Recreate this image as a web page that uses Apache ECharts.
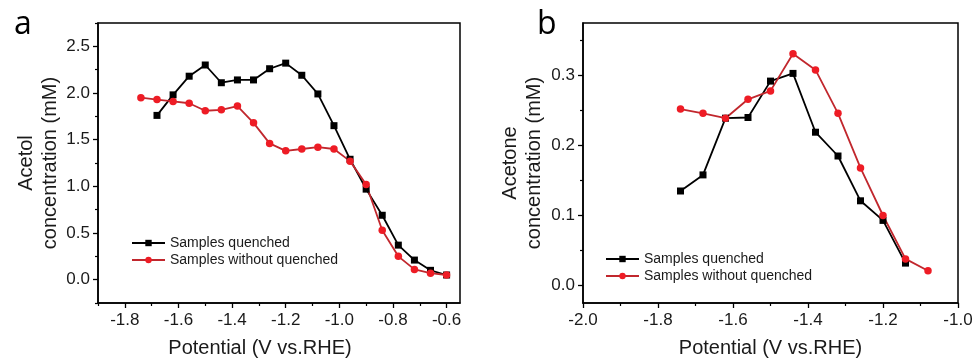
<!DOCTYPE html>
<html>
<head>
<meta charset="utf-8">
<script src="https://cdn.jsdelivr.net/npm/echarts@6/dist/echarts.min.js"></script>
<style>
html,body{margin:0;padding:0;background:#fff;}
#chart{width:977px;height:364px;}
</style>
</head>
<body>
<div id="chart"></div>
<script>
// ---- Panel a: Acetol ----
const aQuenchedX = [-1.68, -1.62, -1.56, -1.50, -1.44, -1.38, -1.32, -1.26, -1.20, -1.14, -1.08, -1.02, -0.96, -0.90, -0.84, -0.78, -0.72, -0.66, -0.60];
const aQuenchedY = [1.76, 1.98, 2.18, 2.30, 2.11, 2.14, 2.14, 2.26, 2.32, 2.19, 1.99, 1.65, 1.29, 0.97, 0.69, 0.37, 0.21, 0.10, 0.05];
const aWithoutX = [-1.74, -1.68, -1.62, -1.56, -1.50, -1.44, -1.38, -1.32, -1.26, -1.20, -1.14, -1.08, -1.02, -0.96, -0.90, -0.84, -0.78, -0.72, -0.66, -0.60];
const aWithoutY = [1.95, 1.93, 1.91, 1.89, 1.81, 1.82, 1.86, 1.68, 1.46, 1.38, 1.40, 1.42, 1.40, 1.27, 1.02, 0.53, 0.25, 0.11, 0.07, 0.05];

// ---- Panel b: Acetone ----
const bQuenchedX = [-1.74, -1.68, -1.62, -1.56, -1.50, -1.44, -1.38, -1.32, -1.26, -1.20, -1.14];
const bQuenchedY = [0.135, 0.158, 0.239, 0.240, 0.292, 0.303, 0.219, 0.185, 0.121, 0.093, 0.032];
const bWithoutX = [-1.74, -1.68, -1.62, -1.56, -1.50, -1.44, -1.38, -1.32, -1.26, -1.20, -1.14, -1.08];
const bWithoutY = [0.252, 0.246, 0.239, 0.266, 0.278, 0.331, 0.308, 0.246, 0.168, 0.100, 0.038, 0.021];

// ---- Tick values ----
const aXTicks = [-1.8, -1.6, -1.4, -1.2, -1.0, -0.8, -0.6];
const aXMinor = [-1.9, -1.7, -1.5, -1.3, -1.1, -0.9, -0.7];
const aYTicks = [0.0, 0.5, 1.0, 1.5, 2.0, 2.5];
const aYMinor = [-0.25, 0.25, 0.75, 1.25, 1.75, 2.25, 2.75];
const bXTicks = [-2.0, -1.8, -1.6, -1.4, -1.2, -1.0];
const bXMinor = [-1.9, -1.7, -1.5, -1.3, -1.1];
const bYTicks = [0.0, 0.1, 0.2, 0.3];
const bYMinor = [0.05, 0.15, 0.25, 0.35];

const seriesNames = ['Samples quenched', 'Samples without quenched'];
const panelLabels = ['a', 'b'];
const yNames = ['Acetol\nconcentration (mM)', 'Acetone\nconcentration (mM)'];
const xName = 'Potential (V vs.RHE)';

const zip = (xs, ys) => xs.map((x, i) => [x, ys[i]]);
const FONT = 'Liberation Sans';
const TXT = '#1a1a1a';

function mainX(grid, min, max, ticks, namePad) {
  return {
    type: 'value', gridIndex: grid, position: 'bottom', min: min, max: max,
    axisLine: { show: true, onZero: false, lineStyle: { color: '#000', width: 1.5 } },
    axisTick: { show: true, length: 5, customValues: ticks, lineStyle: { color: '#000', width: 1.3 } },
    axisLabel: { customValues: ticks, margin: 9, fontFamily: FONT, fontSize: 17, color: TXT,
      formatter: v => v.toFixed(1) },
    splitLine: { show: false },
    name: xName, nameLocation: 'middle', nameGap: 35,
    nameTextStyle: { fontFamily: FONT, fontSize: 20, color: TXT, padding: namePad }
  };
}
function minorX(grid, min, max, ticks) {
  return {
    type: 'value', gridIndex: grid, position: 'bottom', min: min, max: max,
    axisLine: { show: false, onZero: false }, axisLabel: { show: false }, splitLine: { show: false },
    axisTick: { show: true, length: 3, customValues: ticks, lineStyle: { color: '#000', width: 1.2 } }
  };
}
function mainY(grid, min, max, ticks, name, gap) {
  return {
    type: 'value', gridIndex: grid, position: 'left', min: min, max: max,
    axisLine: { show: true, onZero: false, lineStyle: { color: '#000', width: 1.5 } },
    axisTick: { show: true, length: 5, customValues: ticks, lineStyle: { color: '#000', width: 1.3 } },
    axisLabel: { customValues: ticks, margin: 8, fontFamily: FONT, fontSize: 17, color: TXT,
      formatter: v => v.toFixed(1) },
    splitLine: { show: false },
    name: name, nameLocation: 'middle', nameGap: gap, nameRotate: 90,
    nameTextStyle: { fontFamily: FONT, fontSize: 20, color: TXT, lineHeight: 24 }
  };
}
function minorY(grid, min, max, ticks) {
  return {
    type: 'value', gridIndex: grid, position: 'left', offset: 0, min: min, max: max,
    axisLine: { show: false, onZero: false }, axisLabel: { show: false }, splitLine: { show: false },
    axisTick: { show: true, length: 3, customValues: ticks, lineStyle: { color: '#000', width: 1.2 } }
  };
}

function blackSeries(xi, yi, data) {
  return {
    name: seriesNames[0], type: 'line', xAxisIndex: xi, yAxisIndex: yi, data: data,
    symbol: 'rect', symbolSize: 7, showSymbol: true,
    lineStyle: { color: '#000', width: 1.8 }, itemStyle: { color: '#000' },
    animation: false
  };
}
function redSeries(xi, yi, data) {
  return {
    name: seriesNames[1], type: 'line', xAxisIndex: xi, yAxisIndex: yi, data: data,
    symbol: 'circle', symbolSize: 7.5, showSymbol: true,
    lineStyle: { color: '#c1272d', width: 1.8 }, itemStyle: { color: '#ee1c25' },
    animation: false
  };
}

const chart = echarts.init(document.getElementById('chart'), null, { renderer: 'canvas' });
chart.setOption({
  animation: false,
  backgroundColor: '#fff',
  title: [
    { text: panelLabels[0], left: 9, top: 4, textStyle: { fontFamily: 'Open Sans', fontSize: 32, fontWeight: 'normal', color: '#000' } },
    { text: panelLabels[1], left: 532, top: 4, textStyle: { fontFamily: 'Open Sans', fontSize: 32, fontWeight: 'normal', color: '#000' } }
  ],
  grid: [
    { left: 98, top: 23, width: 362, height: 280, show: true, borderColor: '#000', borderWidth: 1.5, backgroundColor: 'transparent', containLabel: false },
    { left: 583, top: 23, width: 375, height: 280, show: true, borderColor: '#000', borderWidth: 1.5, backgroundColor: 'transparent', containLabel: false }
  ],
  legend: [
    { data: seriesNames, orient: 'vertical', left: 126, top: 231, itemWidth: 33, itemHeight: 8, itemGap: 3,
      textStyle: { fontFamily: FONT, fontSize: 14, color: TXT }, selectedMode: false },
    { data: seriesNames, orient: 'vertical', left: 600, top: 247, itemWidth: 33, itemHeight: 8, itemGap: 3,
      textStyle: { fontFamily: FONT, fontSize: 14, color: TXT }, selectedMode: false }
  ],
  xAxis: [
    mainX(0, -1.9, -0.55, aXTicks, [0, 38, 0, 0]),
    minorX(0, -1.9, -0.55, aXMinor),
    mainX(1, -2.0, -1.0, bXTicks, [0, 0, 0, 0]),
    minorX(1, -2.0, -1.0, bXMinor)
  ],
  yAxis: [
    mainY(0, -0.25, 2.75, aYTicks, yNames[0], 36),
    minorY(0, -0.25, 2.75, aYMinor),
    mainY(1, -0.025, 0.375, bYTicks, yNames[1], 37),
    minorY(1, -0.025, 0.375, bYMinor)
  ],
  series: [
    blackSeries(0, 0, zip(aQuenchedX, aQuenchedY)),
    redSeries(0, 0, zip(aWithoutX, aWithoutY)),
    blackSeries(2, 2, zip(bQuenchedX, bQuenchedY)),
    redSeries(2, 2, zip(bWithoutX, bWithoutY))
  ]
});
</script>
</body>
</html>
